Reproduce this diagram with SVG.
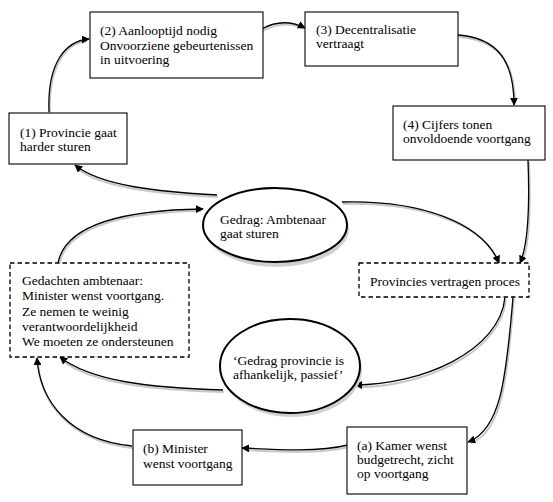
<svg xmlns="http://www.w3.org/2000/svg" width="553" height="502" viewBox="0 0 553 502">
<style>
.box{fill:#fff;stroke:#000;stroke-width:1.1}
.dash{fill:#fff;stroke:#000;stroke-width:1.3;stroke-dasharray:4.5,3}
.ell{fill:#fff;stroke:#000;stroke-width:2}
.t{font-family:'Liberation Serif','DejaVu Serif',serif;font-size:13.5px;fill:#000}
.c{fill:none;stroke:#000;stroke-width:1.3;marker-end:url(#ah)}
.sh{fill:none;stroke:#c8c8c8;stroke-width:2}
</style>
<defs>
<marker id="ah" viewBox="0 0 10 10" refX="9" refY="5" markerWidth="8" markerHeight="8" markerUnits="userSpaceOnUse" orient="auto">
<path d="M0,0 L10,5 L0,10 z" fill="#000"/>
</marker>
</defs>
<rect width="553" height="502" fill="#fff"/>
<g id="connector-shadows" transform="translate(1,2)">
<path class="sh" d="M49,112 C47,62 66,41 86,39"/>
<path class="sh" d="M262,29 Q283,17 303,27"/>
<path class="sh" d="M458,35 C497,38 514,60 514,102"/>
<path class="sh" d="M528,160 C530,212 528,245 521,260"/>
<path class="sh" d="M342,202 C420,200 482,222 498,260"/>
<path class="sh" d="M217,195 C160,192 100,186 77,167"/>
<path class="sh" d="M58,263 C66,222 130,210 200,209"/>
<path class="sh" d="M505,297 C500,352 420,385 358,385"/>
<path class="sh" d="M223,390 C150,388 90,381 62,359"/>
<path class="sh" d="M513,297 C506,382 500,430 470,441"/>
<path class="sh" d="M348,445 C320,452 280,450 245,448"/>
<path class="sh" d="M132,446 C70,440 40,402 37,361"/>
</g>
<g id="connectors">
<path class="c" d="M49,112 C47,62 66,41 89,39"/>
<path class="c" d="M262,29 Q283,17 305,28"/>
<path class="c" d="M458,35 C497,38 514,60 514,105"/>
<path class="c" d="M528,160 C530,212 528,245 520,263"/>
<path class="c" d="M342,202 C420,200 482,222 499,263"/>
<path class="c" d="M217,195 C160,192 100,186 75,165"/>
<path class="c" d="M58,263 C66,222 130,210 203,209"/>
<path class="c" d="M505,297 C500,352 420,385 355,385"/>
<path class="c" d="M223,390 C150,388 90,381 60,357"/>
<path class="c" d="M513,297 C506,382 500,430 468,442"/>
<path class="c" d="M348,445 C320,452 280,450 242,448"/>
<path class="c" d="M132,446 C70,440 40,402 37,358"/>
</g>
<g font-family="'Liberation Serif', 'DejaVu Serif', serif">
<g id="n1">
<rect class="box" x="9" y="113" width="118" height="51"/>
<text class="t" x="20" y="137">(1) Provincie gaat</text>
<text class="t" x="20" y="151">harder sturen</text>
</g>
<g id="n2">
<rect class="box" x="90" y="12" width="173" height="66"/>
<text class="t" x="100" y="35">(2) Aanlooptijd nodig</text>
<text class="t" x="100" y="50">Onvoorziene gebeurtenissen</text>
<text class="t" x="100" y="64">in uitvoering</text>
</g>
<g id="n3">
<rect class="box" x="305" y="12" width="153" height="54"/>
<text class="t" x="316" y="34">(3) Decentralisatie</text>
<text class="t" x="316" y="48">vertraagt</text>
</g>
<g id="n4">
<rect class="box" x="393" y="106" width="152" height="54"/>
<text class="t" x="403" y="129">(4) Cijfers tonen</text>
<text class="t" x="403" y="143">onvoldoende voortgang</text>
</g>
<g id="gedrag-ambtenaar">
<ellipse cx="276" cy="227" rx="72" ry="38" fill="#d0d0d0" transform="translate(1,2)"/>
<ellipse class="ell" cx="275" cy="225" rx="72" ry="37"/>
<text class="t" x="220" y="224">Gedrag: Ambtenaar</text>
<text class="t" x="220" y="238">gaat sturen</text>
</g>
<g id="gedachten">
<rect class="dash" x="10" y="263" width="179" height="94"/>
<text class="t" x="22" y="285">Gedachten ambtenaar:</text>
<text class="t" x="22" y="300">Minister wenst voortgang.</text>
<text class="t" x="22" y="316">Ze nemen te weinig</text>
<text class="t" x="22" y="331">verantwoordelijkheid</text>
<text class="t" x="22" y="346">We moeten ze ondersteunen</text>
</g>
<g id="provincies">
<rect class="dash" x="359" y="263" width="170" height="34"/>
<text class="t" x="370" y="286">Provincies vertragen proces</text>
</g>
<g id="gedrag-provincie">
<ellipse cx="291" cy="368" rx="70" ry="47" fill="#d0d0d0" transform="translate(1,2)"/>
<ellipse class="ell" cx="290" cy="366" rx="70" ry="47"/>
<text class="t" x="233" y="365">‘Gedrag provincie is</text>
<text class="t" x="233" y="379">afhankelijk, passief’</text>
</g>
<g id="na">
<rect class="box" x="347" y="427" width="120" height="67"/>
<text class="t" x="357" y="450">(a) Kamer wenst</text>
<text class="t" x="357" y="464">budgetrecht, zicht</text>
<text class="t" x="357" y="478">op voortgang</text>
</g>
<g id="nb">
<rect class="box" x="133" y="430" width="109" height="55"/>
<text class="t" x="143" y="453">(b) Minister</text>
<text class="t" x="143" y="468">wenst voortgang</text>
</g>
</g>
</svg>
